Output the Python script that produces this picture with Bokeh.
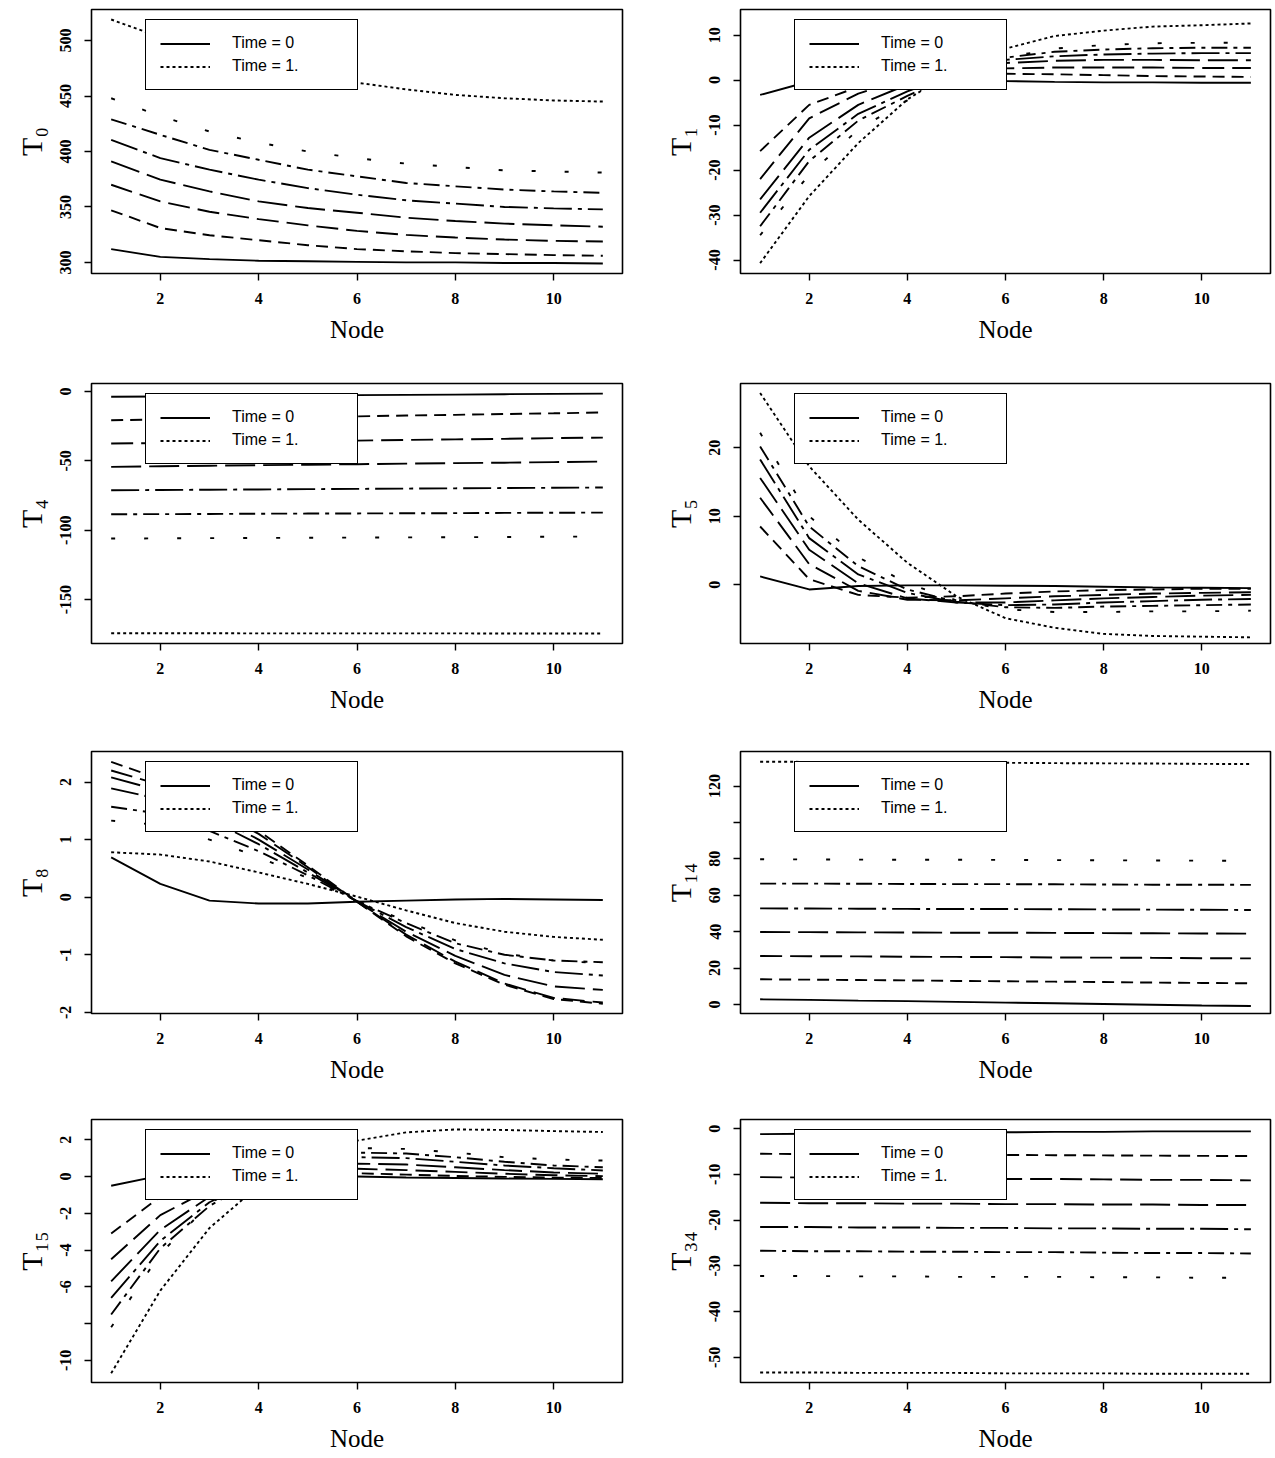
from bokeh.plotting import figure
from bokeh.models import Range1d, FixedTicker, Legend, LegendItem
from bokeh.layouts import column, row
from bokeh.embed import file_html
from bokeh.resources import INLINE

# ---------------- data ----------------
nodes = [1, 2, 3, 4, 5, 6, 7, 8, 9, 10, 11]

T0 = [
    [312, 305, 303, 301.5, 301, 300.5, 300, 300, 299.5, 299.5, 299],
    [347, 331, 324.5, 320, 315.5, 312, 310, 308.4, 307.5, 306.6, 306],
    [370, 355, 345.7, 339, 333.4, 328.4, 324.8, 322.4, 320.6, 319.4, 318.8],
    [391, 374.6, 364, 355, 349, 344.8, 340.3, 337.3, 335, 333.4, 332.2],
    [410.4, 394, 383.6, 374.6, 367, 361, 356, 353, 350, 348.7, 347.8],
    [429, 415, 401.5, 392.5, 383.6, 377.6, 371.6, 368.6, 365.7, 364, 362.7],
    [448, 432, 418, 408, 400, 394, 389, 386, 383, 382, 381],
    [519, 503, 490, 479, 470, 462, 456, 451, 448, 446, 445],
]
T1 = [
    [-3.3, -0.3, 0.5, 0.5, 0.2, -0.2, -0.4, -0.5, -0.5, -0.6, -0.6],
    [-15.8, -5.5, -1.5, 0.5, 1.2, 1.4, 1.3, 1.1, 0.9, 0.8, 0.7],
    [-22.0, -8.5, -3.0, 0.5, 2.0, 2.6, 2.8, 2.8, 2.8, 2.7, 2.7],
    [-26.5, -12.8, -5.5, -1.0, 2.0, 3.8, 4.3, 4.5, 4.5, 4.4, 4.4],
    [-29.5, -15.5, -7.5, -2.5, 1.5, 4.5, 5.3, 5.7, 5.9, 6.0, 6.0],
    [-32.5, -18.0, -9.0, -3.5, 1.5, 5.0, 6.3, 6.8, 7.1, 7.2, 7.2],
    [-34.5, -21.0, -11.0, -4.5, 0.5, 5.0, 7.0, 7.8, 8.2, 8.3, 8.3],
    [-40.7, -25.8, -14.0, -4.3, 2.5, 7.0, 9.8, 11.0, 11.9, 12.2, 12.6],
]
T4 = [
    [-3.8, -3.6, -3.3, -3.1, -2.9, -2.6, -2.4, -2.2, -1.9, -1.7, -1.5],
    [-20.7, -20.1, -19.5, -19.0, -18.4, -17.9, -17.3, -16.8, -16.2, -15.7, -15.1],
    [-37.5, -37.1, -36.6, -36.2, -35.8, -35.4, -34.9, -34.5, -34.1, -33.6, -33.2],
    [-54.3, -53.9, -53.5, -53.1, -52.8, -52.4, -52.0, -51.6, -51.3, -50.9, -50.5],
    [-71.2, -71.0, -70.8, -70.6, -70.4, -70.2, -70.0, -69.8, -69.6, -69.4, -69.2],
    [-88.5, -88.4, -88.3, -88.1, -88.0, -87.9, -87.8, -87.7, -87.5, -87.4, -87.3],
    [-106.0, -105.9, -105.7, -105.6, -105.4, -105.3, -105.2, -105.0, -104.9, -104.7, -104.6],
    [-174.3, -174.3, -174.3, -174.4, -174.4, -174.4, -174.4, -174.4, -174.5, -174.5, -174.5],
]
T5 = [
    [1.2, -0.7, -0.2, -0.1, -0.1, -0.15, -0.2, -0.3, -0.4, -0.45, -0.5],
    [8.5, 0.8, -1.5, -1.9, -1.7, -1.3, -1.0, -0.8, -0.7, -0.6, -0.6],
    [12.7, 3.0, -0.9, -2.2, -2.3, -2.0, -1.7, -1.5, -1.3, -1.2, -1.1],
    [15.6, 5.1, 0.2, -2.0, -2.6, -2.6, -2.3, -2.0, -1.8, -1.6, -1.5],
    [18.3, 6.8, 1.5, -1.2, -2.6, -3.0, -2.9, -2.6, -2.4, -2.2, -2.1],
    [20.2, 8.5, 2.7, -0.7, -2.5, -3.3, -3.4, -3.2, -3.1, -3.0, -2.9],
    [22.2, 10.0, 4.0, 0.2, -2.3, -3.6, -4.0, -4.0, -3.9, -3.9, -3.8],
    [28.0, 17.3, 9.5, 3.2, -1.7, -4.9, -6.3, -7.2, -7.5, -7.6, -7.7],
]
T8 = [
    [0.69, 0.23, -0.06, -0.11, -0.11, -0.08, -0.06, -0.04, -0.03, -0.04, -0.05],
    [2.35, 2.05, 1.65, 1.15, 0.55, -0.08, -0.68, -1.15, -1.52, -1.77, -1.85],
    [2.20, 1.95, 1.55, 1.10, 0.52, -0.08, -0.65, -1.12, -1.50, -1.75, -1.83],
    [2.08, 1.85, 1.45, 1.00, 0.48, -0.08, -0.60, -1.02, -1.35, -1.55, -1.61],
    [1.89, 1.70, 1.35, 0.92, 0.43, -0.07, -0.52, -0.90, -1.15, -1.30, -1.36],
    [1.57, 1.45, 1.15, 0.80, 0.38, -0.07, -0.45, -0.80, -1.00, -1.10, -1.13],
    [1.33, 1.25, 1.00, 0.70, 0.33, -0.06, -0.42, -0.75, -0.98, -1.10, -1.15],
    [0.78, 0.74, 0.62, 0.43, 0.23, 0.01, -0.23, -0.45, -0.60, -0.69, -0.74],
]
T14 = [
    [2.8, 2.5, 2.1, 1.8, 1.4, 1.0, 0.6, 0.2, -0.2, -0.6, -0.9],
    [13.8, 13.6, 13.4, 13.2, 12.9, 12.7, 12.5, 12.3, 12.0, 11.8, 11.6],
    [26.6, 26.5, 26.4, 26.2, 26.1, 26.0, 25.8, 25.7, 25.6, 25.4, 25.3],
    [39.8, 39.7, 39.6, 39.5, 39.4, 39.4, 39.3, 39.2, 39.1, 39.0, 38.9],
    [52.8, 52.7, 52.6, 52.5, 52.4, 52.4, 52.3, 52.2, 52.1, 52.0, 51.9],
    [66.4, 66.4, 66.3, 66.2, 66.1, 66.1, 66.0, 65.9, 65.8, 65.8, 65.7],
    [79.8, 79.7, 79.6, 79.5, 79.5, 79.4, 79.3, 79.2, 79.1, 79.0, 78.9],
    [133.4, 133.3, 133.2, 133.0, 132.9, 132.8, 132.6, 132.5, 132.4, 132.2, 132.1],
]
T15 = [
    [-0.5, 0.05, 0.12, 0.1, 0.05, 0.0, -0.05, -0.08, -0.11, -0.13, -0.15],
    [-3.1, -1.1, -0.2, 0.15, 0.22, 0.18, 0.1, 0.03, -0.02, -0.06, -0.08],
    [-4.5, -2.1, -0.7, 0.1, 0.35, 0.42, 0.35, 0.25, 0.15, 0.07, 0.02],
    [-5.7, -2.9, -1.1, -0.05, 0.5, 0.7, 0.65, 0.5, 0.35, 0.22, 0.15],
    [-6.6, -3.5, -1.4, -0.1, 0.7, 1.05, 1.0, 0.8, 0.6, 0.45, 0.33],
    [-7.5, -3.9, -1.6, -0.1, 0.9, 1.3, 1.25, 1.05, 0.8, 0.6, 0.5],
    [-8.2, -4.2, -1.5, 0.3, 1.2, 1.55, 1.5, 1.3, 1.05, 0.92, 0.87],
    [-10.7, -6.2, -2.8, -0.5, 1.0, 1.95, 2.4, 2.56, 2.53, 2.47, 2.42],
]
T34 = [
    [-1.2, -1.1, -1.0, -0.9, -0.8, -0.8, -0.7, -0.7, -0.6, -0.6, -0.6],
    [-5.5, -5.55, -5.6, -5.65, -5.7, -5.75, -5.8, -5.85, -5.9, -5.95, -6.0],
    [-10.6, -10.7, -10.8, -10.8, -10.9, -11.0, -11.0, -11.1, -11.2, -11.2, -11.3],
    [-16.2, -16.3, -16.3, -16.4, -16.4, -16.5, -16.5, -16.6, -16.6, -16.7, -16.7],
    [-21.5, -21.5, -21.6, -21.6, -21.7, -21.7, -21.8, -21.8, -21.9, -21.9, -22.0],
    [-26.7, -26.8, -26.8, -26.9, -26.9, -27.0, -27.0, -27.1, -27.2, -27.2, -27.3],
    [-32.2, -32.2, -32.3, -32.3, -32.4, -32.4, -32.4, -32.5, -32.5, -32.6, -32.6],
    [-53.3, -53.3, -53.4, -53.4, -53.4, -53.5, -53.5, -53.5, -53.6, -53.6, -53.6],
]

x_ticks = [2, 4, 6, 8, 10]
legend_labels = ["Time = 0", "Time = 1."]

# (series, y label, y range, y ticks, unlabeled ticks)
panels = [
    [(T0, "T\u2080", (290, 528), [300, 350, 400, 450, 500], []),
     (T1, "T\u2081", (-43, 15.7), [-40, -30, -20, -10, 0, 10], [])],
    [(T4, "T\u2084", (-181.7, 5.8), [-150, -100, -50, 0], []),
     (T5, "T\u2085", (-8.6, 29.4), [0, 10, 20], [])],
    [(T8, "T\u2088", (-2.02, 2.53), [-2, -1, 0, 1, 2], []),
     (T14, "T\u2081\u2084", (-5, 139), [0, 20, 40, 60, 80, 100, 120], [100])],
    [(T15, "T\u2081\u2085", (-11.2, 3.1), [-10, -8, -6, -4, -2, 0, 2], [-8]),
     (T34, "T\u2083\u2084", (-55.5, 2), [-50, -40, -30, -20, -10, 0], [])],
]

# ---------------- styling ----------------
DASHES = ["solid", "12 7", "22 8", "30 8", "28 6 4 6", "16 6 4 6", "4 29", "3 3"]
ROW_H = [370, 370, 365, 353]
ROW_BT = [9, 13, 11, 14]
ROW_BB = [97, 97, 92, 76]
COL_W = [640, 635]
COL_BL = [91, 100]
COL_BR = [18, 5]
SERIF = "Liberation Serif"


def make_panel(series, ylab, yr, yticks, hidden, ri, ci):
    w, h = COL_W[ci], ROW_H[ri]
    p = figure(width=w, height=h, x_range=Range1d(0.6, 11.4), y_range=Range1d(*yr),
               output_backend="svg", toolbar_location=None,
               min_border_left=COL_BL[ci], min_border_right=COL_BR[ci],
               min_border_top=ROW_BT[ri], min_border_bottom=ROW_BB[ri])
    p.grid.visible = False
    p.background_fill_color = "white"
    p.border_fill_color = "white"
    p.outline_line_color = "black"
    p.outline_line_width = 1.6

    renderers = []
    for k, ys in enumerate(series):
        r = p.line(nodes, ys, line_color="black", line_width=1.9, line_dash=DASHES[k])
        renderers.append(r)

    for ax in (p.xaxis[0], p.yaxis[0]):
        ax.axis_line_color = None
        ax.major_tick_line_color = "black"
        ax.major_tick_line_width = 1.4
        ax.major_tick_out = 7
        ax.major_tick_in = 0
        ax.minor_tick_line_color = None
        ax.major_label_text_font = SERIF
        ax.major_label_text_font_size = "16px"
        ax.major_label_text_font_style = "bold"
        ax.major_label_text_color = "black"
        ax.axis_label_text_font = SERIF
        ax.axis_label_text_font_style = "normal"
        ax.axis_label_text_color = "black"

    xa = p.xaxis[0]
    xa.ticker = FixedTicker(ticks=x_ticks)
    xa.major_label_overrides = {t: str(t) for t in x_ticks}
    xa.major_label_standoff = 12
    xa.axis_label = "Node"
    xa.axis_label_text_font_size = "25px"
    xa.axis_label_standoff = 9

    ya = p.yaxis[0]
    ya.ticker = FixedTicker(ticks=yticks)
    ya.major_label_overrides = {t: ("" if t in hidden else str(t)) for t in yticks}
    ya.major_label_orientation = "vertical"
    ya.major_label_standoff = 13
    ya.axis_label = ylab
    ya.axis_label_text_font_size = "30px"
    ya.axis_label_standoff = 10

    frame_h = h - ROW_BT[ri] - ROW_BB[ri]
    legend = Legend(
        items=[LegendItem(label=legend_labels[0], renderers=[renderers[0]]),
               LegendItem(label=legend_labels[1], renderers=[renderers[-1]])],
        location=(54, frame_h - 13 - 68),
        orientation="vertical",
        border_line_color="black", border_line_width=1.6, border_line_alpha=1.0,
        background_fill_color="white", background_fill_alpha=1.0,
        padding=14, spacing=5, margin=0,
        glyph_width=50, glyph_height=17, label_height=17, label_width=111,
        label_standoff=22,
        label_text_font="Liberation Sans", label_text_font_size="16px",
        label_text_color="black",
    )
    p.add_layout(legend)
    return p


rows = []
for ri, prow in enumerate(panels):
    figs = [make_panel(*cfg, ri, ci) for ci, cfg in enumerate(prow)]
    rows.append(row(*figs))

layout = column(*rows)
open("out.html", "w").write(file_html(layout, INLINE))
